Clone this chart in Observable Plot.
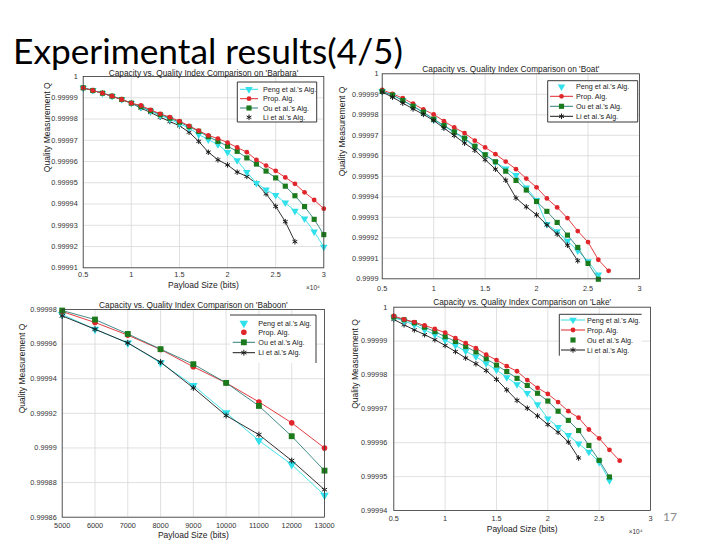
<!DOCTYPE html>
<html><head><meta charset="utf-8">
<script src="https://cdn.jsdelivr.net/npm/d3@7"></script>
<script src="https://cdn.jsdelivr.net/npm/@observablehq/plot@0.6"></script>
<style>
html,body{margin:0;padding:0;background:#fff;}
#page{position:relative;width:720px;height:540px;overflow:hidden;background:#fff;font-family:"Liberation Sans",Arial,sans-serif;}
.abs{position:absolute;}
</style></head><body>
<div id="page"></div>
<script>
// ---------- labels ----------
const slideTitle = "Experimental results(4/5)";
const pageNumber = "17";
const seriesNames = ["Peng et al.'s Alg.", "Prop. Alg.", "Ou et al.'s Alg.", "Li et al.'s Alg."];
const yAxisLabel = "Quality Measurement Q";
const xAxisLabel = "Payload Size (bits)";
const expLabel = "\u00d710\u2074";

// ---------- Barbara (x in units of 10^4 bits) ----------
const barbaraX = [0.5,0.6,0.7,0.8,0.9,1.0,1.1,1.2,1.3,1.4,1.5,1.6,1.7,1.8,1.9,2.0,2.1,2.2,2.3,2.4,2.5,2.6,2.7,2.8,2.9,3.0];
const barbaraProp = [0.99999467,0.99999341,0.99999216,0.99999075,0.99998918,0.99998746,0.99998636,0.99998432,0.99998244,0.99998087,0.99997899,0.9999768,0.9999745,0.9999723,0.9999708,0.9999689,0.9999666,0.9999644,0.9999608,0.9999581,0.9999556,0.9999525,0.9999495,0.9999455,0.9999419,0.9999378];
const barbaraOu   = [0.99999467,0.99999341,0.99999216,0.99999075,0.99998918,0.99998746,0.99998589,0.99998401,0.99998213,0.9999804,0.99997852,0.9999764,0.9999742,0.9999717,0.9999695,0.9999672,0.9999648,0.9999617,0.9999588,0.9999555,0.9999523,0.9999484,0.9999439,0.9999388,0.9999328,0.9999256];
const barbaraPeng = [0.99999467,0.99999341,0.99999216,0.99999075,0.99998918,0.99998746,0.99998558,0.99998369,0.99998166,0.99997993,0.99997774,0.9999758,0.9999727,0.9999703,0.999968,0.9999644,0.9999605,0.999955,0.9999498,0.9999467,0.9999442,0.9999406,0.9999367,0.9999331,0.999927,0.9999198];
const barbaraLi   = [0.99999467,0.99999341,0.99999216,0.99999075,0.99998918,0.99998746,0.99998511,0.99998307,0.99998087,0.99997883,0.9999768,0.9999738,0.9999695,0.9999644,0.9999608,0.9999584,0.999955,0.999953,0.9999497,0.9999448,0.9999389,0.9999317,0.9999223];

// ---------- Boat ----------
const boatX = [0.5,0.6,0.7,0.8,0.9,1.0,1.1,1.2,1.3,1.4,1.5,1.6,1.7,1.8,1.9,2.0,2.1,2.2,2.3,2.4,2.5,2.6,2.7];
const boatProp = [0.9999922,0.9999902,0.9999881,0.9999854,0.9999826,0.9999802,0.9999769,0.9999738,0.9999711,0.9999674,0.9999641,0.9999608,0.9999572,0.9999535,0.9999489,0.9999446,0.9999392,0.9999348,0.9999296,0.9999233,0.9999179,0.9999093,0.9999039];
const boatOu   = [0.9999914,0.9999896,0.999987,0.9999842,0.9999813,0.9999779,0.9999748,0.9999717,0.9999686,0.9999647,0.9999605,0.9999571,0.9999525,0.999948,0.9999433,0.9999377,0.9999329,0.9999275,0.9999213,0.9999153,0.9999075,0.9998998];
const boatPeng = [0.9999915,0.9999896,0.999987,0.9999841,0.9999811,0.9999776,0.9999745,0.9999714,0.9999681,0.9999644,0.9999605,0.9999569,0.9999537,0.9999505,0.9999445,0.9999384,0.9999267,0.9999231,0.9999185,0.9999137,0.9999085,0.999902];
const boatLi   = [0.9999911,0.9999886,0.9999857,0.9999829,0.9999802,0.9999772,0.9999735,0.9999699,0.9999662,0.9999627,0.9999581,0.9999535,0.9999481,0.9999394,0.9999351,0.9999312,0.9999263,0.9999218,0.9999164,0.9999088];

// ---------- Baboon (x in bits) ----------
const baboonX = [5000,6000,7000,8000,9000,10000,11000,12000,13000];
const baboonProp = [0.9999788,0.9999725,0.9999652,0.9999569,0.9999469,0.9999376,0.9999266,0.9999145,0.9999];
const baboonOu   = [0.9999794,0.9999742,0.9999659,0.9999571,0.9999484,0.9999376,0.9999243,0.9999068,0.9998869];
const baboonPeng = [0.9999771,0.9999686,0.9999607,0.9999492,0.9999361,0.9999203,0.9999043,0.9998904,0.9998727];
const baboonLi   = [0.9999763,0.9999686,0.9999607,0.9999496,0.9999347,0.9999187,0.9999077,0.9998927,0.9998759];

// ---------- Lake ----------
const lakeX = [0.5,0.6,0.7,0.8,0.9,1.0,1.1,1.2,1.3,1.4,1.5,1.6,1.7,1.8,1.9,2.0,2.1,2.2,2.3,2.4,2.5,2.6,2.7];
const lakeProp = [0.9999974,0.9999964,0.9999956,0.9999946,0.9999936,0.9999925,0.9999909,0.9999894,0.9999879,0.999986,0.9999844,0.9999826,0.9999811,0.9999785,0.9999762,0.9999744,0.999972,0.9999693,0.9999674,0.9999639,0.9999613,0.9999579,0.9999547];
const lakeOu   = [0.9999971,0.9999963,0.9999954,0.9999941,0.9999928,0.9999913,0.9999899,0.9999884,0.9999868,0.9999848,0.9999829,0.999981,0.999979,0.9999769,0.9999746,0.9999723,0.9999693,0.9999666,0.9999636,0.9999592,0.9999548,0.9999499];
const lakePeng = [0.9999969,0.9999959,0.9999948,0.9999933,0.9999919,0.9999903,0.9999887,0.999987,0.9999854,0.9999834,0.9999815,0.9999793,0.9999772,0.9999746,0.9999713,0.9999671,0.9999646,0.9999622,0.9999597,0.9999573,0.9999543,0.9999489];
const lakeLi   = [0.9999964,0.9999948,0.9999933,0.9999919,0.9999904,0.9999887,0.9999869,0.999985,0.9999833,0.9999813,0.9999787,0.9999756,0.9999725,0.9999702,0.9999679,0.9999654,0.9999631,0.9999602,0.9999555];

// ---------- ticks ----------
const ticksX1e4 = [0.5,1,1.5,2,2.5,3];
const ticksBaboonX = [5000,6000,7000,8000,9000,10000,11000,12000,13000];
const ticksBarbaraY = [0.99991,0.99992,0.99993,0.99994,0.99995,0.99996,0.99997,0.99998,0.99999,1];
const ticksBoatY = [0.9999,0.99991,0.99992,0.99993,0.99994,0.99995,0.99996,0.99997,0.99998,0.99999,1];
const ticksBaboonY = [0.99986,0.99988,0.9999,0.99992,0.99994,0.99996,0.99998];
const ticksLakeY = [0.99994,0.99995,0.99996,0.99997,0.99998,0.99999,1];

// ---------- styles ----------
const CYAN = "#30e0ea", RED = "#e0262b", GREEN = "#1b7a1b", TEAL = "#2f7f7c", BLACK = "#1a1a1a";
const triDown = {draw(ctx, size){const s=Math.sqrt(4*size/Math.sqrt(3));const h=s*Math.sqrt(3)/2;ctx.moveTo(-s/2,-h/3);ctx.lineTo(s/2,-h/3);ctx.lineTo(0,2*h/3);ctx.closePath();}};
const fmtY = d => String(+(+d).toFixed(5));
const page = document.getElementById("page");

function seriesMarks(xs, ys, style){
  const idx = ys.map((d,i)=>i);
  const m = [];
  m.push(Plot.line(idx, {x: i=>xs[i], y: i=>ys[i], stroke: style.line, strokeWidth: 0.9}));
  const dot = {x: i=>xs[i], y: i=>ys[i], r: style.r, symbol: style.symbol};
  if (style.hollow) { dot.stroke = style.color; dot.fill = "none"; dot.strokeWidth = 1; }
  else { dot.fill = style.color; dot.stroke = "none"; }
  m.push(Plot.dot(idx, dot));
  return m;
}

function panel(cfg){
  const {left, top, width, height, fl, fr, ft, fb} = cfg;
  const marks = [
    Plot.gridX(cfg.xTicks, {stroke: "#d8d8d8", strokeOpacity: 1, strokeWidth: 0.8}),
    Plot.gridY(cfg.yTicks, {stroke: "#d8d8d8", strokeOpacity: 1, strokeWidth: 0.8}),
    Plot.axisX(cfg.xTicks, {tickSize: 0, tickPadding: cfg.xPad, tickFormat: cfg.xFmt, fill: "#333"}),
    Plot.axisY(cfg.yTicks, {tickSize: 0, tickPadding: cfg.yPad, tickFormat: fmtY, fill: "#333"})
  ];
  for (const s of cfg.series) marks.push(...seriesMarks(cfg.xAll, s.ys, s.style));
  marks.push(Plot.frame({stroke: "#3a3a3a", strokeWidth: 0.8}));
  marks.push(Plot.text([cfg.title], {text: d=>d, frameAnchor: "top", dy: cfg.titleDy, fontSize: 8.3, fill: "#222"}));
  marks.push(Plot.text([yAxisLabel], {text: d=>d, frameAnchor: "left", rotate: -90, dx: cfg.yLabDx, fontSize: 8.5, fill: "#222"}));
  if (cfg.xLabDy) marks.push(Plot.text([xAxisLabel], {text: d=>d, frameAnchor: "bottom", dy: cfg.xLabDy, fontSize: 8.5, fill: "#222"}));
  if (cfg.exp) marks.push(Plot.text([expLabel], {text: d=>d, frameAnchor: "bottom-right", dy: cfg.expDy, dx: cfg.expDx, fontSize: 6.5, fill: "#333"}));
  const svg = Plot.plot({
    width, height,
    marginLeft: fl-left, marginRight: left+width-fr, marginTop: ft-top, marginBottom: top+height-fb,
    x: {domain: cfg.xDomain}, y: {domain: cfg.yDomain},
    style: {fontFamily: "'Liberation Sans', Arial, sans-serif", fontSize: "7.3px", background: "transparent", overflow: "visible", color: "#333"},
    marks
  });
  svg.classList.add("abs");
  svg.style.left = left + "px"; svg.style.top = top + "px";
  page.appendChild(svg);
}

const st = {
  peng: {line: CYAN, color: CYAN, symbol: triDown, r: 2.8},
  prop: {line: RED, color: RED, symbol: "circle", r: 2.4},
  ou:   {line: TEAL, color: GREEN, symbol: "square", r: 2.9},
  li:   {line: BLACK, color: BLACK, symbol: "asterisk", r: 2.6, hollow: true}
};
const stBig = {
  peng: {line: CYAN, color: CYAN, symbol: triDown, r: 3.2},
  prop: {line: RED, color: RED, symbol: "circle", r: 2.8},
  ou:   {line: TEAL, color: GREEN, symbol: "square", r: 3.3},
  li:   {line: BLACK, color: BLACK, symbol: "asterisk", r: 2.8, hollow: true}
};

panel({left: 0, top: 55, width: 335, height: 245, fl: 82.7, fr: 323.3, ft: 76, fb: 267.3,
  xDomain: [0.5, 3], yDomain: [0.99991, 1], xTicks: ticksX1e4, yTicks: ticksBarbaraY, xFmt: d=>String(d),
  xPad: 4.5, yPad: 5.5, titleDy: -6.5, yLabDx: -36, xLabDy: 20.4, exp: true, expDy: 22, expDx: -4,
  title: "Capacity vs. Quality Index Comparison on 'Barbara'", xAll: barbaraX,
  series: [{ys: barbaraLi, style: st.li}, {ys: barbaraPeng, style: st.peng}, {ys: barbaraOu, style: st.ou}, {ys: barbaraProp, style: st.prop}]});

panel({left: 335, top: 55, width: 320, height: 240, fl: 381.7, fr: 639, ft: 73.3, fb: 278.3,
  xDomain: [0.5, 3], yDomain: [0.9999, 1], xTicks: ticksX1e4, yTicks: ticksBoatY, xFmt: d=>String(d),
  xPad: 7, yPad: 3.7, titleDy: -7.3, yLabDx: -40, xLabDy: 0, exp: false,
  title: "Capacity vs. Quality Index Comparison on 'Boat'", xAll: boatX,
  series: [{ys: boatProp, style: st.prop}, {ys: boatPeng, style: st.peng}, {ys: boatOu, style: st.ou}, {ys: boatLi, style: st.li}]});

panel({left: 0, top: 295, width: 335, height: 245, fl: 61.7, fr: 324, ft: 309, fb: 516.7,
  xDomain: [5000, 13000], yDomain: [0.99986, 0.99998], xTicks: ticksBaboonX, yTicks: ticksBaboonY, xFmt: d=>String(d),
  xPad: 6, yPad: 5.5, titleDy: -7.3, yLabDx: -40, xLabDy: 20.6, exp: false,
  title: "Capacity vs. Quality Index Comparison on 'Baboon'", xAll: baboonX,
  series: [{ys: baboonPeng, style: stBig.peng}, {ys: baboonLi, style: stBig.li}, {ys: baboonProp, style: stBig.prop}, {ys: baboonOu, style: stBig.ou}]});

panel({left: 340, top: 292, width: 320, height: 248, fl: 393.3, fr: 650, ft: 306.7, fb: 510,
  xDomain: [0.5, 3], yDomain: [0.99994, 1], xTicks: ticksX1e4, yTicks: ticksLakeY, xFmt: d=>String(d),
  xPad: 5, yPad: 6.5, titleDy: -7.7, yLabDx: -38.3, xLabDy: 21.5, exp: true, expDy: 23, expDx: -8,
  title: "Capacity vs. Quality Index Comparison on 'Lake'", xAll: lakeX,
  series: [{ys: lakeLi, style: st.li}, {ys: lakePeng, style: st.peng}, {ys: lakeOu, style: st.ou}, {ys: lakeProp, style: st.prop}]});

// ---------- overlay: slide title, legends, page number ----------
const ov = d3.select(page).append("svg").attr("class","abs").attr("width",720).attr("height",540)
  .style("left","0px").style("top","0px").style("pointer-events","none");
ov.append("text").attr("x",13).attr("y",64).attr("font-family","Lato, 'Open Sans', sans-serif")
  .attr("font-size",34).attr("fill","#000").attr("textLength",390).attr("lengthAdjust","spacingAndGlyphs").text(slideTitle);
ov.append("text").attr("x",670).attr("y",521).attr("text-anchor","middle").attr("font-family","Lato, 'Open Sans', sans-serif")
  .attr("font-size",12).attr("fill","#8a8a8a").text(pageNumber);

function legend(box, sides, rows, sx0, sx1, tx, entries){
  const g = ov.append("g");
  g.append("rect").attr("x",box[0]).attr("y",box[1]).attr("width",box[2]-box[0]).attr("height",box[3]-box[1]).attr("fill","#fff");
  const segs = {top:[box[0],box[1],box[2],box[1]], right:[box[2],box[1],box[2],box[3]], bottom:[box[0],box[3],box[2],box[3]], left:[box[0],box[1],box[0],box[3]]};
  for (const s of sides){const q=segs[s]; g.append("line").attr("x1",q[0]).attr("y1",q[1]).attr("x2",q[2]).attr("y2",q[3]).attr("stroke","#222").attr("stroke-width",0.9);}
  entries.forEach((e,i)=>{
    const y = rows[i];
    if (e.showLine) g.append("line").attr("x1",sx0).attr("x2",sx1).attr("y1",y).attr("y2",y).attr("stroke",e.style.line).attr("stroke-width",1);
    const r = e.style.r;
    const type = e.style.symbol === "circle" ? d3.symbolCircle : e.style.symbol === "square" ? d3.symbolSquare : e.style.symbol === "asterisk" ? d3.symbolAsterisk : e.style.symbol;
    const p = g.append("path").attr("transform",`translate(${(sx0+sx1)/2},${y})`).attr("d", d3.symbol().type(type).size(Math.PI*r*r)());
    if (e.style.hollow) p.attr("fill","none").attr("stroke",e.style.color).attr("stroke-width",1); else p.attr("fill",e.style.color);
    g.append("text").attr("x",tx).attr("y",y).attr("dy","0.35em").attr("font-family","'Liberation Sans', Arial, sans-serif").attr("font-size",7.2).attr("fill","#222").text(e.name);
  });
}
legend([237.3,82,316.7,122], ["top","right","bottom","left"], [89.3,98.7,108,117.3], 240, 258, 263,
  [{name: seriesNames[0], style: st.peng, showLine: true}, {name: seriesNames[1], style: st.prop, showLine: true},
   {name: seriesNames[2], style: st.ou, showLine: true}, {name: seriesNames[3], style: st.li, showLine: false}]);
legend([547.7,80.7,637.7,122], ["top","right","bottom","left"], [86.7,96.3,106.3,116.3], 550, 573, 576,
  [{name: seriesNames[0], style: st.peng, showLine: false}, {name: seriesNames[1], style: st.prop, showLine: true},
   {name: seriesNames[2], style: st.ou, showLine: true}, {name: seriesNames[3], style: st.li, showLine: true}]);
legend([230,315,316,363], ["top","right"], [323.3,332.3,342.3,352.7], 232.7, 255, 258.3,
  [{name: seriesNames[0], style: stBig.peng, showLine: false}, {name: seriesNames[1], style: stBig.prop, showLine: false},
   {name: seriesNames[2], style: stBig.ou, showLine: true}, {name: seriesNames[3], style: stBig.li, showLine: true}]);
legend([559.3,314.3,641.7,355.7], ["top","left"], [320,330,340,350], 561, 585, 587,
  [{name: seriesNames[0], style: st.peng, showLine: true}, {name: seriesNames[1], style: st.prop, showLine: true},
   {name: seriesNames[2], style: st.ou, showLine: false}, {name: seriesNames[3], style: st.li, showLine: true}]);
</script>
</body></html>
